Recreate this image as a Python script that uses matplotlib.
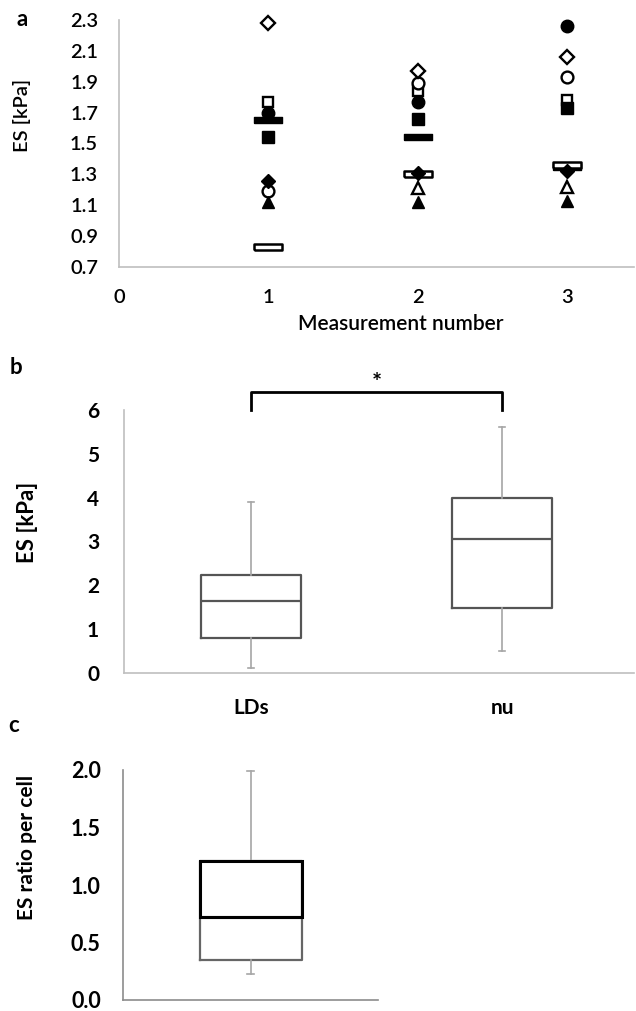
import numpy as np
import matplotlib
matplotlib.use("Agg")
import matplotlib.pyplot as plt

plt.rcParams['font.family'] = ['Lato', 'DejaVu Sans']

# ---------------- data ----------------
measurements = [1, 2, 3]
open_diamond = [2.28, 1.97, 2.06]
open_square = [1.77, 1.84, 1.78]
open_circle = [1.19, 1.89, 1.93]
open_triangle = [np.nan, 1.21, 1.22]
filled_circle = [1.70, 1.77, 2.26]
filled_square = [1.54, 1.66, 1.73]
mean_dash = [1.65, 1.54, 1.35]
open_dash = [0.83, 1.30, 1.36]
filled_diamond = [1.26, 1.31, 1.32]
filled_triangle = [1.12, 1.12, 1.13]

a_yticks = [0.7, 0.9, 1.1, 1.3, 1.5, 1.7, 1.9, 2.1, 2.3]
a_xticks = [0, 1, 2, 3]

b_groups = ['LDs', 'nu']
b_whislo = [0.11, 0.50]
b_q1 = [0.80, 1.49]
b_med = [1.65, 3.06]
b_q3 = [2.24, 4.00]
b_whishi = [3.90, 5.62]
b_yticks = [0, 1, 2, 3, 4, 5, 6]

c_whislo = [0.23]
c_q1 = [0.35]
c_med = [0.72]
c_q3 = [1.21]
c_whishi = [1.99]
c_yticks = [0.0, 0.5, 1.0, 1.5, 2.0]

# ---------------- figure ----------------
W, H = 636, 1011
fig = plt.figure(figsize=(W / 100, H / 100), dpi=100)

def fbox(l, t, r, b):
    return [l / W, 1 - b / H, (r - l) / W, (b - t) / H]

axis_gray = '#bfbfbf'

# ---- panel a ----
ax = fig.add_axes(fbox(119, 20, 634, 267))
ax.set_xlim(0, 3.445)
ax.set_ylim(0.7, 2.3)
for s in ['top', 'right']:
    ax.spines[s].set_visible(False)
for s in ['left', 'bottom']:
    ax.spines[s].set_color(axis_gray)
    ax.spines[s].set_linewidth(1.2)
ax.set_xticks(a_xticks)
ax.set_yticks(a_yticks)
ax.set_yticklabels([f'{v:.1f}' for v in a_yticks])
ax.tick_params(axis='both', length=0, labelsize=14.5, colors='black')
ax.tick_params(axis='y', pad=15)
ax.tick_params(axis='x', pad=16)
for lab in ax.get_xticklabels() + ax.get_yticklabels():
    lab.set_fontweight('semibold')

mew = 1.7
rect = [(-1, -0.25), (1, -0.25), (1, 0.25), (-1, 0.25), (-1, -0.25)]
ax.plot(measurements, open_square, ls='none', marker='s', ms=7.5, mfc='white', mec='black', mew=mew, zorder=3)
ax.plot(measurements, open_circle, ls='none', marker='o', ms=8.5, mfc='white', mec='black', mew=mew, zorder=3)
ax.plot(measurements, open_triangle, ls='none', marker='^', ms=8.5, mfc='white', mec='black', mew=mew, zorder=3)
ax.plot(measurements, open_diamond, ls='none', marker='D', ms=7, mfc='white', mec='black', mew=mew, zorder=3)
ax.plot(measurements, filled_circle, ls='none', marker='o', ms=9, mfc='black', mec='black', zorder=4)
ax.plot(measurements, filled_square, ls='none', marker='s', ms=8, mfc='black', mec='black', zorder=4)
ax.plot(measurements, mean_dash, ls='none', marker=rect, ms=20, mfc='black', mec='black', mew=1, zorder=5)
ax.plot(measurements, open_dash, ls='none', marker=rect, ms=20, mfc='white', mec='black', mew=1.8, zorder=6)
ax.plot(measurements, filled_diamond, ls='none', marker='D', ms=7, mfc='black', mec='black', zorder=7)
ax.plot(measurements, filled_triangle, ls='none', marker='^', ms=9, mfc='black', mec='black', zorder=7)
for art in ax.lines:
    art.set_clip_on(False)

fig.text(401 / W, 1 - 324 / H, 'Measurement number', ha='center', va='center', fontsize=15, fontweight='semibold')
fig.text(22 / W, 1 - 115 / H, 'ES [kPa]', ha='center', va='center', rotation=90, fontsize=14.5, fontweight='semibold')
fig.text(22 / W, 1 - 20 / H, 'a', ha='center', va='center', fontsize=16, fontweight='bold')

# ---- panel b ----
bx = fig.add_axes(fbox(124, 410, 634, 673))
stats_b = [dict(label=g, whislo=lo, q1=a1, med=m, q3=a3, whishi=hi)
           for g, lo, a1, m, a3, hi in zip(b_groups, b_whislo, b_q1, b_med, b_q3, b_whishi)]
bx.bxp(stats_b, positions=[1, 2], widths=0.40, showfliers=False, capwidths=0.025,
       boxprops=dict(color='#555555', linewidth=1.6),
       medianprops=dict(color='#555555', linewidth=1.6),
       whiskerprops=dict(color='#a6a6a6', linewidth=1.2),
       capprops=dict(color='#a6a6a6', linewidth=1.2))
bx.set_xlim(0.494, 2.525)
bx.set_ylim(0, 6)
for s in ['top', 'right']:
    bx.spines[s].set_visible(False)
for s in ['left', 'bottom']:
    bx.spines[s].set_color(axis_gray)
    bx.spines[s].set_linewidth(1.2)
bx.set_yticks(b_yticks)
bx.set_xticks([1, 2])
bx.set_xticklabels(b_groups)
bx.tick_params(axis='both', length=0, labelsize=15, colors='black')
bx.tick_params(axis='y', pad=18)
bx.tick_params(axis='x', pad=18)
for lab in bx.get_xticklabels() + bx.get_yticklabels():
    lab.set_fontweight('bold')
bx.plot([1, 1, 2, 2], [6.0, 6.4, 6.4, 6.0], color='black', lw=2, clip_on=False)
bx.text(1.5, 6.6, '*', ha='center', va='center', fontsize=17, fontweight='bold')
fig.text(28 / W, 1 - 522 / H, 'ES [kPa]', ha='center', va='center', rotation=90, fontsize=16, fontweight='bold')
fig.text(16 / W, 1 - 367 / H, 'b', ha='center', va='center', fontsize=16, fontweight='bold')

# ---- panel c ----
cx = fig.add_axes(fbox(123, 770, 378, 1000))
stats_c = [dict(label='', whislo=c_whislo[0], q1=c_q1[0], med=c_med[0], q3=c_q3[0], whishi=c_whishi[0])]
cx.bxp(stats_c, positions=[1], widths=0.40, showfliers=False, capwidths=0.03,
       boxprops=dict(color='#666666', linewidth=1.6),
       medianprops=dict(color='black', linewidth=2.2),
       whiskerprops=dict(color='#a6a6a6', linewidth=1.2),
       capprops=dict(color='#a6a6a6', linewidth=1.2))
cx.bar([1], [c_q3[0] - c_med[0]], bottom=c_med, width=0.40, facecolor='none',
       edgecolor='black', linewidth=2.2, zorder=4)
cx.set_xlim(0.5, 1.5)
cx.set_ylim(0, 2.0)
for s in ['top', 'right']:
    cx.spines[s].set_visible(False)
for s in ['left', 'bottom']:
    cx.spines[s].set_color('#8c8c8c')
    cx.spines[s].set_linewidth(1.2)
cx.set_xticks([])
cx.set_yticks(c_yticks)
cx.set_yticklabels([f'{v:.1f}' for v in c_yticks])
cx.tick_params(axis='both', length=0, labelsize=15.5, colors='black')
cx.tick_params(axis='y', pad=16)
for lab in cx.get_yticklabels():
    lab.set_fontweight('bold')
fig.text(27 / W, 1 - 847 / H, 'ES ratio per cell', ha='center', va='center', rotation=90, fontsize=15, fontweight='bold')
fig.text(14 / W, 1 - 725 / H, 'c', ha='center', va='center', fontsize=16, fontweight='bold')

fig.savefig('out.png', dpi=100)
